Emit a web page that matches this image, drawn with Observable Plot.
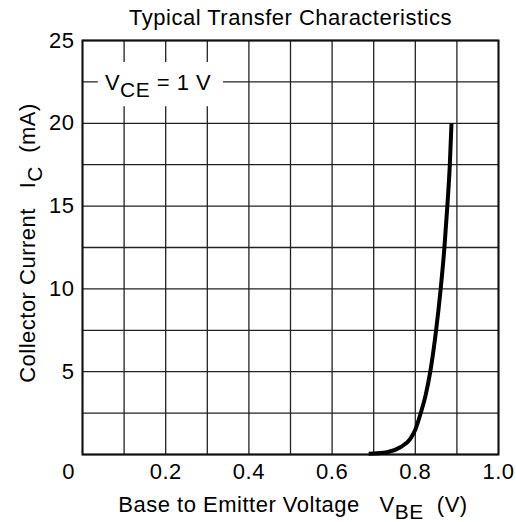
<!DOCTYPE html>
<html>
<head>
<meta charset="utf-8">
<script src="https://cdn.jsdelivr.net/npm/d3@7"></script>
<script src="https://cdn.jsdelivr.net/npm/@observablehq/plot@0.6"></script>
<style>
  html, body { margin: 0; padding: 0; background: #fff; }
  svg { display: block; }
  svg text { letter-spacing: 0.5px; }
</style>
</head>
<body>
<div id="chart"></div>
<script>
// ---- data ----
const vbe = [0.688, 0.732, 0.764, 0.788, 0.800, 0.813, 0.825, 0.836, 0.850, 0.861, 0.870, 0.877, 0.883, 0.887];
const ic  = [0.05, 0.14, 0.44, 0.95, 1.5, 2.5, 3.6, 5, 7.5, 10, 12.5, 15, 17.5, 20];
const xTicks = [0.2, 0.4, 0.6, 0.8, 1.0];
const yTicks = [5, 10, 15, 20, 25];
const xGrid = [0, 0.1, 0.2, 0.3, 0.4, 0.5, 0.6, 0.7, 0.8, 0.9, 1.0];
const yGrid = [0, 2.5, 5, 7.5, 10, 12.5, 15, 17.5, 20, 22.5, 25];
const titleText = "Typical Transfer Characteristics";
const xLabelParts = [["Base to Emitter Voltage   V", false], ["BE", true], ["  (V)", false]];
const yLabelParts = [["Collector Current   I", false], ["C", true], ["  (mA)", false]];
const noteParts = [["V", false], ["CE", true], [" = 1 V", false]];
const noteBox = [{x1: 0.038, x2: 0.339, y1: 21.0, y2: 23.67}];
const noteAt = {x: 0.055, y: 22.5};

const data = vbe.map((v, i) => ({v, i: ic[i]}));
const FONT = "Liberation Sans, Arial, Helvetica, sans-serif";
const FS = 22;

function rich(parts, place) {
  return (index, scales, values, dims) => {
    const t = d3.create("svg:text")
      .attr("font-family", FONT)
      .attr("font-size", FS)
      .attr("fill", "black")
      .attr("letter-spacing", "0.5px")
      .attr("text-anchor", place.anchor || "middle")
      .attr("dominant-baseline", "central")
      .style("white-space", "pre");
    const [px, py] = place.pos(scales, dims);
    t.attr("transform", `translate(${px},${py})` + (place.rotate ? ` rotate(${place.rotate})` : ""));
    let shifted = false;
    for (const [s, sub] of parts) {
      const ts = t.append("tspan").text(s);
      if (sub && !shifted) { ts.attr("dy", "0.32em").attr("font-size", FS * 0.95); shifted = true; }
      else if (sub) { ts.attr("font-size", FS * 0.95); }
      else if (!sub && shifted) { ts.attr("dy", "-0.32em"); shifted = false; }
    }
    return t.node();
  };
}

const chart = Plot.plot({
  width: 516,
  height: 522,
  marginLeft: 82,
  marginRight: 18,
  marginTop: 40,
  marginBottom: 68,
  style: {fontFamily: FONT, fontSize: FS + "px", background: "white", color: "black"},
  x: {domain: [0, 1]},
  y: {domain: [0, 25]},
  marks: [
    Plot.gridX(xGrid, {stroke: "#222", strokeOpacity: 1, strokeWidth: 1.3}),
    Plot.gridY(yGrid, {stroke: "#222", strokeOpacity: 1, strokeWidth: 1.3}),
    Plot.rect(noteBox, {x1: "x1", x2: "x2", y1: "y1", y2: "y2", fill: "white"}),
    Plot.frame({stroke: "#111", strokeWidth: 2}),
    Plot.line(data, {x: "v", y: "i", stroke: "black", strokeWidth: 4, curve: "monotone-x", strokeLinecap: "butt"}),
    Plot.axisX(xTicks, {tickSize: 0, tickPadding: 9, tickFormat: d3.format(".1f"), fontSize: FS, label: null}),
    Plot.axisX([0], {tickSize: 0, tickPadding: 9, tickFormat: d => "0", dx: -14, fontSize: FS, label: null}),
    Plot.axisY(yTicks, {tickSize: 0, tickPadding: 8, fontSize: FS, label: null}),
    Plot.text([titleText], {frameAnchor: "top", dy: -23, lineAnchor: "middle", text: d => d, fontSize: FS}),
    rich(xLabelParts, {pos: (s, d) => [(d.marginLeft + d.width - d.marginRight) / 2 + 3, d.height - 18]}),
    rich(yLabelParts, {rotate: -90, pos: (s, d) => [27, (d.marginTop + d.height - d.marginBottom) / 2 - 4]}),
    rich(noteParts, {anchor: "start", pos: (s, d) => [s.x(noteAt.x), s.y(noteAt.y) + 1]})
  ]
});
document.getElementById("chart").appendChild(chart);
</script>
</body>
</html>
